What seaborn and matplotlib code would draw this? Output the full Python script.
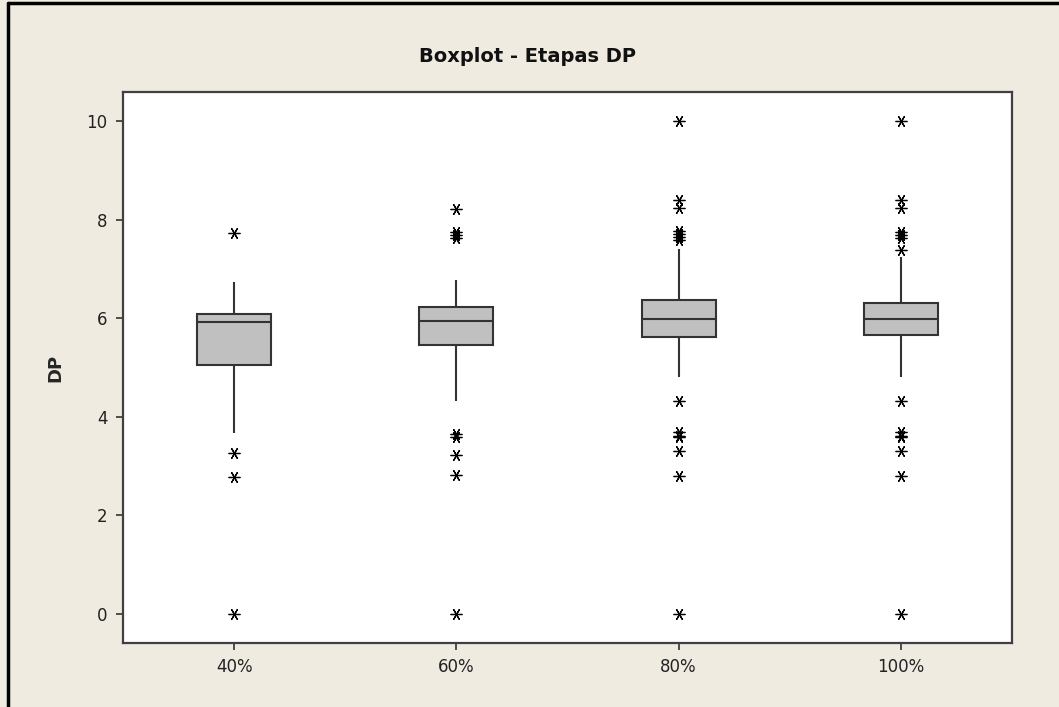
import numpy as np
import pandas as pd
import matplotlib
matplotlib.use("Agg")
import matplotlib.pyplot as plt
from matplotlib.lines import Line2D
import seaborn as sns

# Stages and their box summaries (DP)
groups = ["40%", "60%", "80%", "100%"]
q1 = [5.05, 5.46, 5.61, 5.65]
median = [5.92, 5.94, 5.99, 5.99]
q3 = [6.09, 6.22, 6.36, 6.30]
whisker_lo = [3.67, 4.33, 4.81, 4.81]
whisker_hi = [6.73, 6.77, 7.41, 7.24]

# Individual outlying observations per stage
outliers_low = [
    [0.0, 2.78, 3.27],
    [0.0, 2.82, 3.22, 3.58, 3.66],
    [0.0, 2.80, 3.30, 3.58, 3.62, 3.69, 4.33],
    [0.0, 2.80, 3.30, 3.58, 3.62, 3.69, 4.33],
]
outliers_high = [
    [7.73],
    [7.62, 7.68, 7.75, 8.22],
    [7.58, 7.64, 7.70, 7.76, 8.23, 8.40, 10.0],
    [7.38, 7.62, 7.68, 7.74, 8.23, 8.40, 10.0],
]


def stage_sample(lo_out, lo, a_q1, med, a_q3, hi, hi_out):
    """Observations whose quartiles, whiskers and outliers give the summary."""
    n_lo, n_hi = len(lo_out), len(hi_out)
    n_q3 = 2 * (n_lo + n_hi) + 5
    n_q1 = n_q3 + n_hi - n_lo
    return (list(lo_out) + [lo] + [a_q1] * n_q1 + [med]
            + [a_q3] * n_q3 + [hi] + list(hi_out))


rows = []
for i, g in enumerate(groups):
    vals = stage_sample(outliers_low[i], whisker_lo[i], q1[i], median[i],
                        q3[i], whisker_hi[i], outliers_high[i])
    rows += [(g, v) for v in vals]
df = pd.DataFrame(rows, columns=["Etapa", "DP"])

sns.set_style("white")
plt.rcParams["font.family"] = ["DejaVu Sans"]

bg = "#EFEBE0"
dark = "#333333"

fig = plt.figure(figsize=(10.59, 7.07), dpi=100, facecolor=bg)
ax = fig.add_axes([0.1161, 0.0905, 0.8395, 0.7794])
ax.set_facecolor("white")

sns.boxplot(
    data=df, x="Etapa", y="DP", order=groups, ax=ax,
    color="#C0C0C0", saturation=1, width=0.333,
    linecolor=dark, linewidth=1.5, showcaps=False,
    flierprops=dict(marker=(6, 2, 90), markersize=8.5,
                    markeredgecolor="black", markerfacecolor="black",
                    markeredgewidth=0.9),
)

ax.set_xlim(-0.5, 3.5)
ax.set_ylim(-0.59, 10.59)
ax.set_yticks([0, 2, 4, 6, 8, 10])
ax.set_xlabel("")
ax.set_ylabel("DP", fontsize=13, fontweight="bold", labelpad=16)
ax.tick_params(axis="both", direction="out", length=5, width=1.2,
               color=dark, labelsize=12, pad=6, labelcolor="#222222",
               bottom=True, left=True)
for s in ax.spines.values():
    s.set_color("#404040")
    s.set_linewidth(1.6)

fig.text(0.4985, 1 - 57 / 707, "Boxplot - Etapas DP", ha="center",
         va="center", fontsize=14, fontweight="bold", color="#111111")

# Window frame edges along the left and top
fig.add_artist(Line2D([7.5 / 1059, 7.5 / 1059], [0, 1 - 3 / 707],
                      transform=fig.transFigure, color="black", lw=2.5))
fig.add_artist(Line2D([7.5 / 1059, 1], [1 - 3 / 707, 1 - 3 / 707],
                      transform=fig.transFigure, color="black", lw=2.5))

fig.savefig("out.png", dpi=100, facecolor=bg)
